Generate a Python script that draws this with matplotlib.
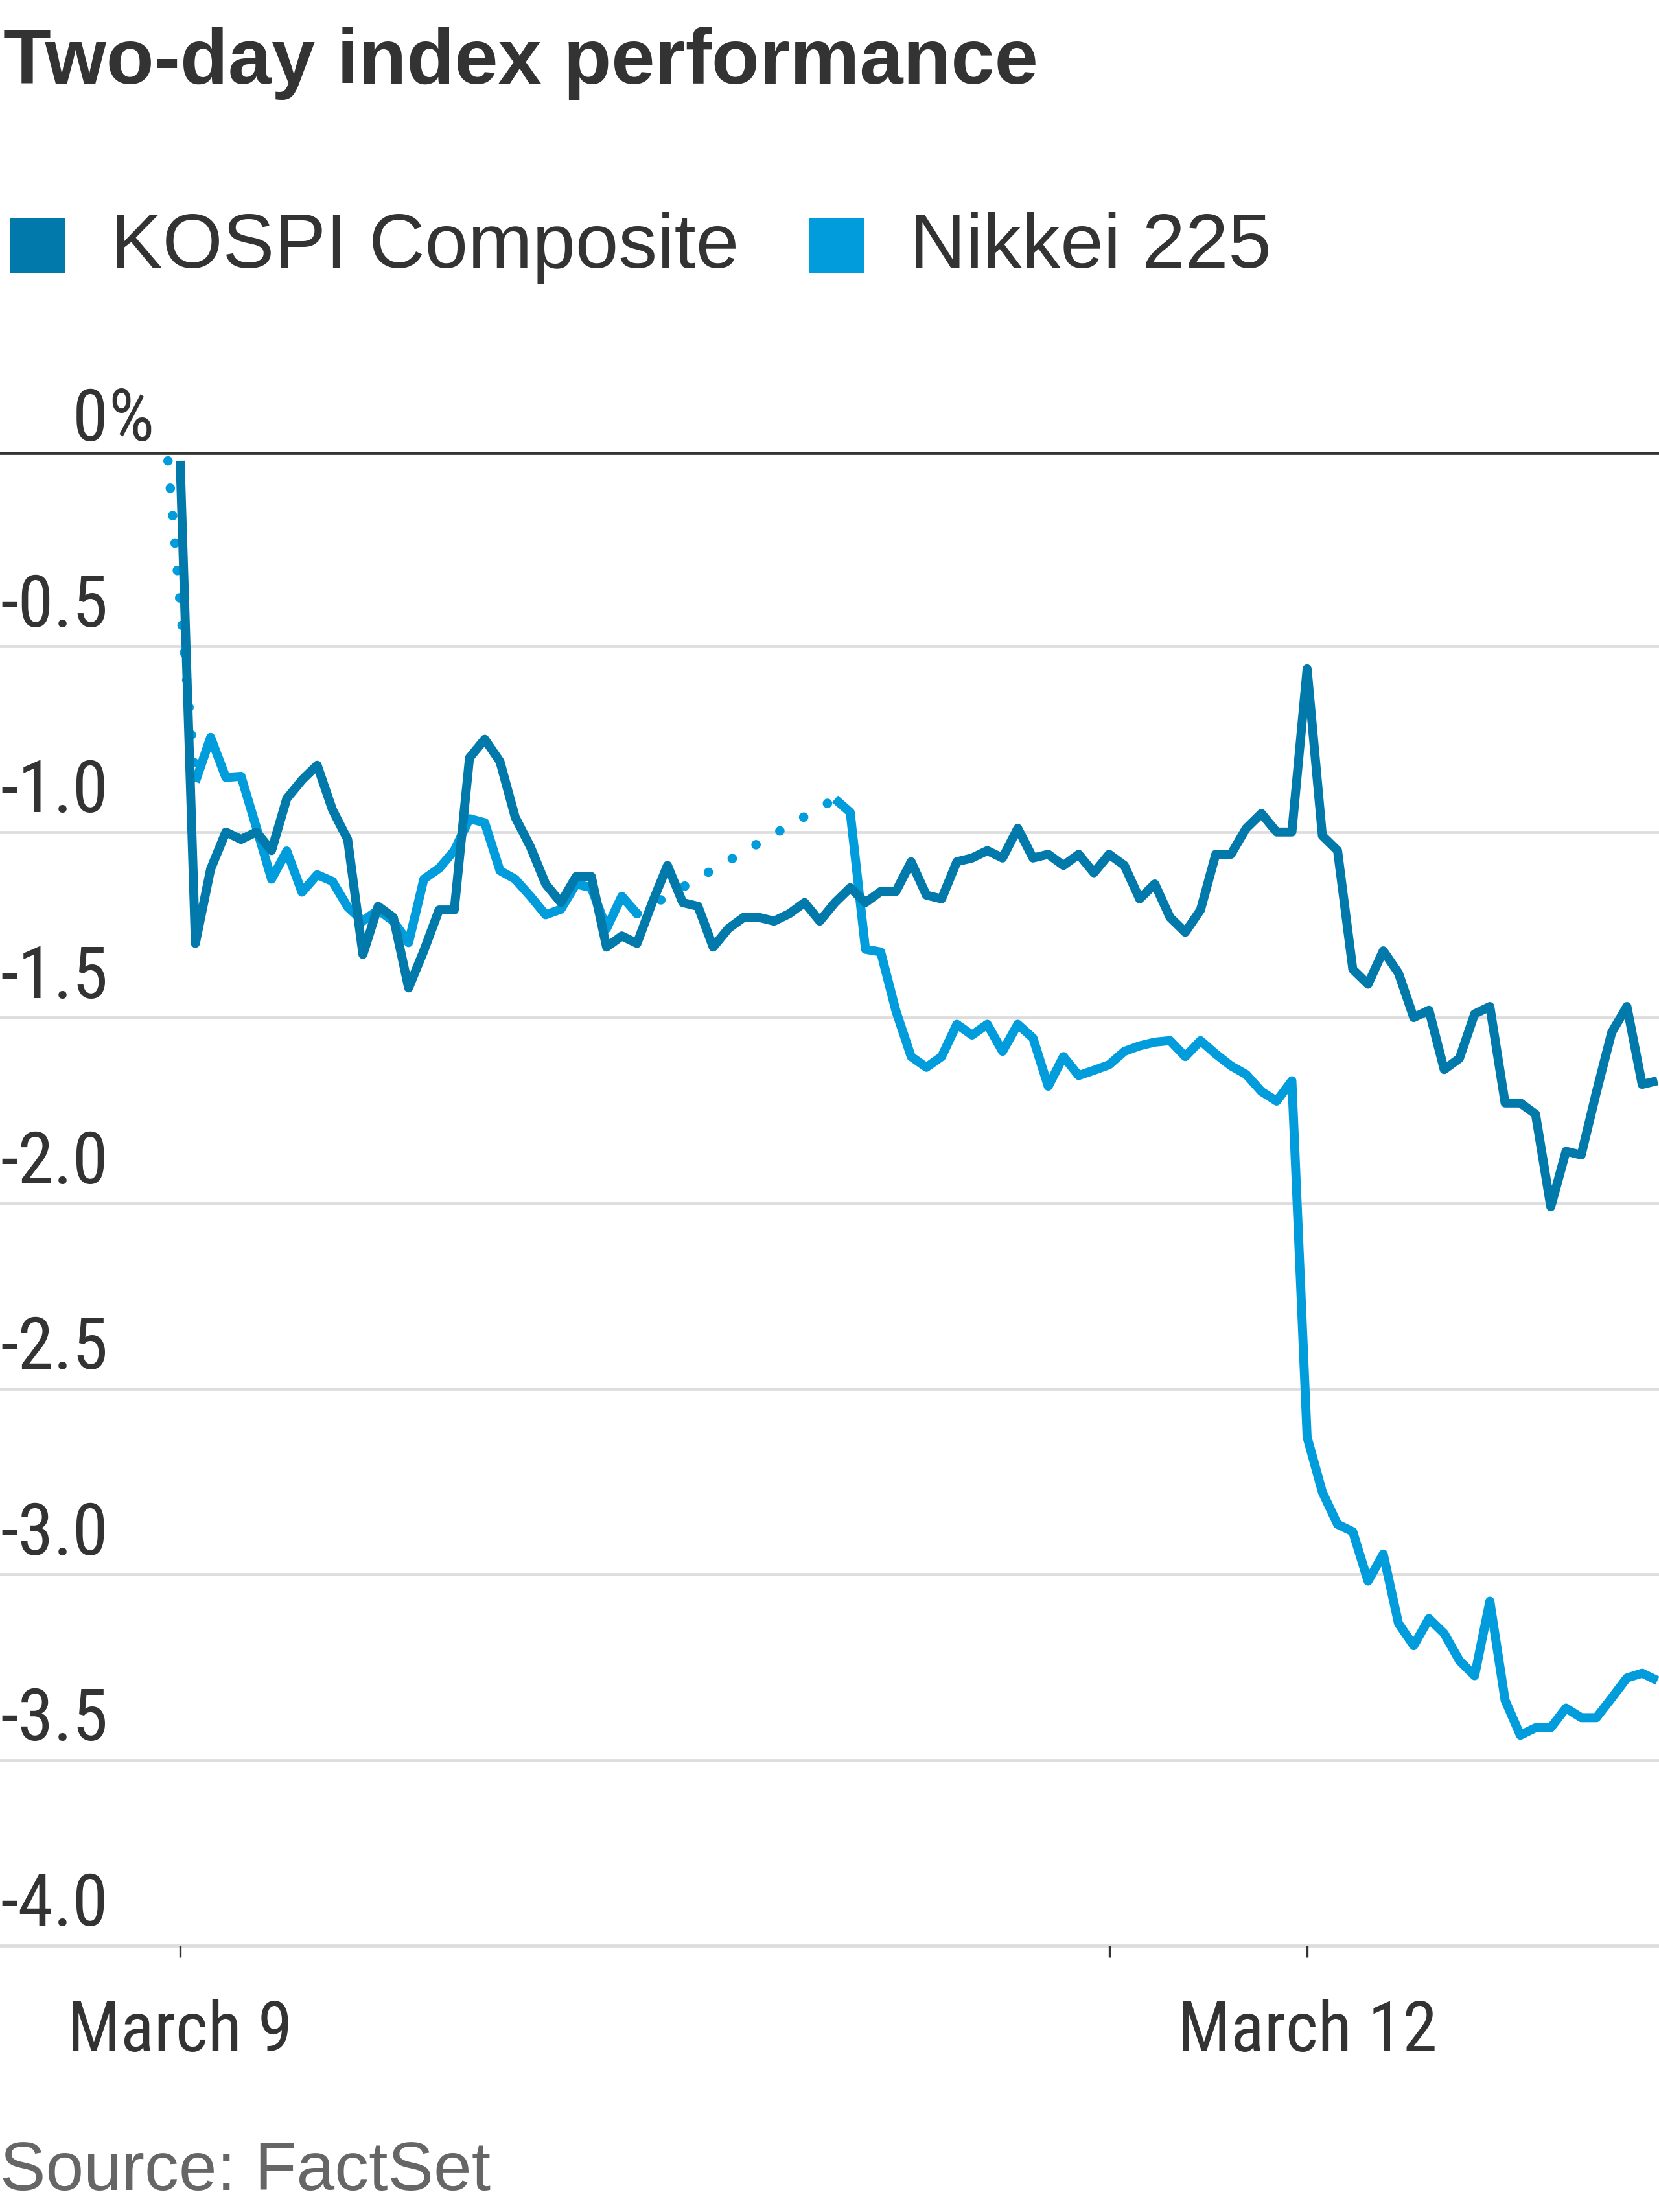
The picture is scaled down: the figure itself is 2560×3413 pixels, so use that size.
import numpy as np
import matplotlib
matplotlib.use("Agg")
import matplotlib.pyplot as plt
from matplotlib import font_manager
from matplotlib.patches import Rectangle

#data: intraday % change, one value per time step (NaN = no trading, lunch break)
title = "Two-day index performance"
series_names = ["KOSPI Composite", "Nikkei 225"]
source = "Source: FactSet"

kospi = [0.00, -1.30, -1.10, -1.00, -1.02, -1.00, -1.05, -0.91, -0.86, -0.82,
         -0.94, -1.02, -1.33, -1.20, -1.23, -1.42, -1.32, -1.21, -1.21, -0.80,
         -0.75, -0.81, -0.96, -1.04, -1.14, -1.19, -1.12, -1.12, -1.31, -1.28,
         -1.30, -1.19, -1.09, -1.19, -1.20, -1.31, -1.26, -1.23, -1.23, -1.24,
         -1.22, -1.19, -1.24, -1.19, -1.15, -1.19, -1.16, -1.16, -1.08, -1.17,
         -1.18, -1.08, -1.07, -1.05, -1.07, -0.99, -1.07, -1.06, -1.09, -1.06,
         -1.11, -1.06, -1.09, -1.18, -1.14, -1.23, -1.27, -1.21, -1.06, -1.06,
         -0.99, -0.95, -1.00, -1.00, -0.56, -1.01, -1.05, -1.37, -1.41, -1.32,
         -1.38, -1.50, -1.48, -1.64, -1.61, -1.49, -1.47, -1.73, -1.73, -1.76,
         -2.01, -1.86, -1.87, -1.70, -1.54, -1.47, -1.68, -1.67]

nan = np.nan
nikkei = [nan, -0.865, -0.745, -0.853, -0.850, -0.987, -1.127, -1.051, -1.162, -1.115,
          -1.133, -1.202, -1.240, -1.210, -1.240, -1.298, -1.127, -1.098, -1.050, -0.964,
          -0.975, -1.104, -1.127, -1.173, -1.223, -1.208, -1.140, -1.150, -1.260, -1.173,
          -1.220, nan, nan, nan, nan, nan, nan, nan, nan, nan,
          nan, nan, nan, -0.911, -0.947, -1.316, -1.323, -1.482, -1.605, -1.634,
          -1.605, -1.518, -1.547, -1.518, -1.591, -1.518, -1.555, -1.685, -1.605, -1.656,
          -1.642, -1.627, -1.591, -1.576, -1.566, -1.562, -1.605, -1.562, -1.598, -1.630,
          -1.653, -1.699, -1.725, -1.670, -2.630, -2.778, -2.865, -2.885, -3.018, -2.945,
          -3.132, -3.192, -3.119, -3.159, -3.232, -3.273, -3.072, -3.339, -3.433, -3.413,
          -3.413, -3.360, -3.386, -3.386, -3.333, -3.279, -3.266, -3.286]
nikkei_prev_close = 0.0

ytick_vals = [-0.5, -1.0, -1.5, -2.0, -2.5, -3.0, -3.5, -4.0]
ytick_labels = ["-0.5", "-1.0", "-1.5", "-2.0", "-2.5", "-3.0", "-3.5", "-4.0"]
xtick_pos = [0, 61, 74]
xtick_labels = ["March 9", "", "March 12"]

#style
kospi_color = "#0279ab"
nikkei_color = "#009cdc"
text_color = "#333333"
grid_color = "#dddddd"

names = {f.name for f in font_manager.fontManager.ttflist}
regular = "Liberation Sans" if "Liberation Sans" in names else "DejaVu Sans"
#axis labels in the reference are condensed; use a narrow face if there is one
narrow_pick = [n for n in ["Liberation Sans Narrow", "Roboto Condensed",
                           "Noto Sans Condensed", "Open Sans Condensed"] if n in names]
if narrow_pick:
    narrow, ysize, xsize = narrow_pick[0], 80, 78
else:
    narrow, ysize, xsize = regular, 69, 66

W, H = 2560, 3413
fig = plt.figure(figsize=(W / 100, H / 100), dpi=100)
fig.patch.set_facecolor("white")

#plot area in pixels: top line at 699, -4.0 grid at 3002
ax = fig.add_axes([0, 1 - 3002 / H, 1, (3002 - 699) / H])
ax.set_ylim(-4.0, 0.021)
ax.set_xlim(-278 / 23.5, (W - 278) / 23.5)
ax.set_facecolor("none")

for s in ["left", "right", "bottom"]:
    ax.spines[s].set_visible(False)
ax.spines["top"].set_color(text_color)
ax.spines["top"].set_linewidth(3.4)

#gridlines and y labels
ax.set_yticks([])
for v, lab in zip(ytick_vals, ytick_labels):
    ax.axhline(v, color=grid_color, lw=3.4, zorder=0, clip_on=False)
    ax.annotate(lab, xy=(167 / W, v), xycoords=("figure fraction", "data"),
                xytext=(0, 22), textcoords="offset points", ha="right", va="baseline",
                fontsize=ysize, family=narrow, color=text_color)
ax.annotate("0", xy=(167 / W, 0), xycoords=("figure fraction", "data"),
            xytext=(0, 22), textcoords="offset points", ha="right", va="baseline",
            fontsize=ysize, family=narrow, color=text_color)
ax.annotate("%", xy=(167 / W, 0), xycoords=("figure fraction", "data"),
            xytext=(0, 22), textcoords="offset points", ha="left", va="baseline",
            fontsize=ysize, family=narrow, color=text_color)

#x ticks
ax.set_xticks(xtick_pos)
ax.set_xticklabels([])
ax.tick_params(axis="x", length=13, width=2.4, color=text_color, direction="out")
for p, lab in zip(xtick_pos, xtick_labels):
    ax.annotate(lab, xy=(p, -4.0), xycoords="data", xytext=(0, -117),
                textcoords="offset points", ha="center", va="baseline",
                fontsize=xsize, family=narrow, color=text_color)

#nikkei: solid where trading, dotted over gaps
x = np.arange(len(nikkei))
nk = np.array(nikkei, dtype=float)
dot_style = dict(color=nikkei_color, lw=10.5, dashes=(0.01, 2.9),
                 dash_capstyle="round", clip_on=False, zorder=2)
idx = np.flatnonzero(~np.isnan(nk))
ax.plot([-0.8, idx[0]], [nikkei_prev_close, nk[idx[0]]], **dot_style)
for a, b in zip(idx[:-1], idx[1:]):
    if b - a > 1:
        ax.plot([a, b], [nk[a], nk[b]], **dot_style)
ax.plot(x, nk, color=nikkei_color, lw=10, solid_joinstyle="round",
        solid_capstyle="butt", zorder=3)

#kospi
ax.plot(np.arange(len(kospi)), kospi, color=kospi_color, lw=10,
        solid_joinstyle="round", solid_capstyle="butt", zorder=4)

#title, legend, source
fig.text(5 / W, 1 - 129 / H, title, fontsize=87, fontweight="bold", family=regular,
         color=text_color, ha="left", va="baseline")

fig.add_artist(Rectangle((16 / W, 1 - 421 / H), 85 / W, 84 / H,
                         transform=fig.transFigure, color=kospi_color, lw=0))
fig.text(171 / W, 1 - 413 / H, series_names[0], fontsize=86, family=regular,
         color=text_color, ha="left", va="baseline")
fig.add_artist(Rectangle((1249 / W, 1 - 421 / H), 85 / W, 84 / H,
                         transform=fig.transFigure, color=nikkei_color, lw=0))
fig.text(1404 / W, 1 - 413 / H, series_names[1], fontsize=86, family=regular,
         color=text_color, ha="left", va="baseline")

fig.text(0, 1 - 3379 / H, source, fontsize=76, family=regular,
         color="#666666", ha="left", va="baseline")

fig.savefig("out.png", dpi=100, facecolor="white")
